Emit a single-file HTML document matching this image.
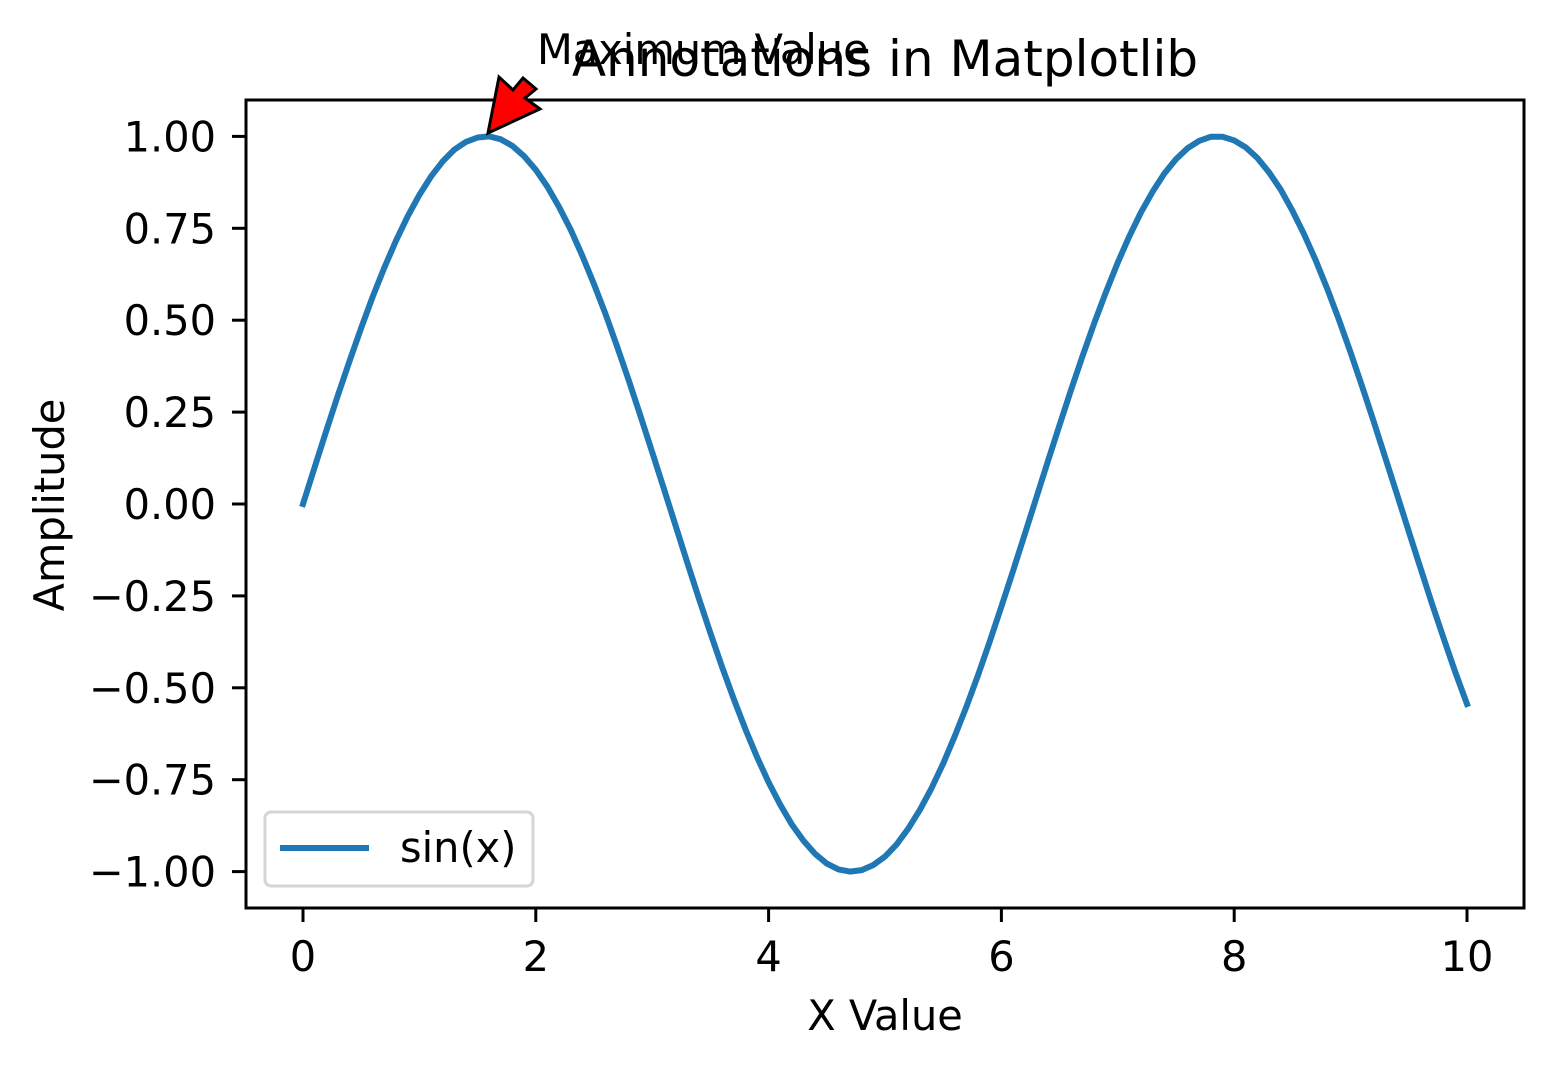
<!DOCTYPE html>
<html><head><meta charset="utf-8"><style>
html,body{margin:0;padding:0;background:#fff;}
svg{display:block;font-family:"DejaVu Sans","Liberation Sans",sans-serif;}
</style></head><body>
<svg id="chart" width="1554" height="1068" viewBox="0 0 1554 1068" xmlns="http://www.w3.org/2000/svg">
<rect width="1554" height="1068" fill="#fff"/>
<g id="ticks"></g>
<polyline id="line" fill="none" stroke="#1f77b4" stroke-width="6" stroke-linejoin="round" stroke-linecap="square"/>
<rect x="246" y="100" width="1278" height="808" fill="none" stroke="#000" stroke-width="3"/>
<text x="885" y="76" style="font-size:50px" text-anchor="middle">Annotations in Matplotlib</text>
<text x="537" y="64" style="font-size:41.5px">Maximum Value</text>
<polygon points="488,133 499,77 513,90 523,78 536,89 525,98 540,109" fill="#ff0000" stroke="#000" stroke-width="3"/>
<text x="885" y="1030" style="font-size:41.5px" text-anchor="middle">X Value</text>
<text transform="translate(64,505) rotate(-90)" style="font-size:41.5px" text-anchor="middle">Amplitude</text>
<g>
<rect x="265" y="812" width="268" height="74" rx="6" fill="#fff" fill-opacity="0.8" stroke="#d5d5d5" stroke-width="3"/>
<line x1="280" y1="848" x2="369" y2="848" stroke="#1f77b4" stroke-width="6"/>
<text x="400" y="862" style="font-size:41.5px">sin(x)</text>
</g>
</svg>
<script>
const xStart = 0, xStep = 0.1;
const ys = [0,0.100,0.199,0.296,0.389,0.479,0.565,0.644,0.717,0.783,0.841,0.891,0.932,0.964,0.985,0.997,1.000,0.992,0.974,0.946,0.909,0.863,0.808,0.746,0.675,0.598,0.516,0.427,0.335,0.239,0.141,0.042,-0.058,-0.158,-0.256,-0.351,-0.443,-0.530,-0.612,-0.688,-0.757,-0.818,-0.872,-0.916,-0.952,-0.978,-0.994,-1.000,-0.996,-0.982,-0.959,-0.926,-0.883,-0.832,-0.773,-0.706,-0.631,-0.551,-0.465,-0.374,-0.279,-0.182,-0.083,0.017,0.117,0.215,0.312,0.405,0.494,0.578,0.657,0.729,0.794,0.850,0.899,0.938,0.968,0.988,0.999,0.999,0.989,0.970,0.941,0.902,0.855,0.798,0.734,0.663,0.585,0.501,0.412,0.319,0.223,0.124,0.025,-0.075,-0.174,-0.272,-0.366,-0.458,-0.544];
const xTicks = [0,2,4,6,8,10];
const yTicks = [1,0.75,0.5,0.25,0,-0.25,-0.5,-0.75,-1];
const yTickLabels = ["1.00","0.75","0.50","0.25","0.00","\u22120.25","\u22120.50","\u22120.75","\u22121.00"];
const X = v => 303 + v*116.4;
const Y = v => 504 - v*367.6;
const NS = "http://www.w3.org/2000/svg";
const g = document.getElementById('ticks');
function mk(tag, attrs){const e=document.createElementNS(NS,tag);for(const k in attrs)e.setAttribute(k,attrs[k]);return e;}
xTicks.forEach(t=>{
  const l=mk('line',{x1:X(t),x2:X(t),y1:908,y2:922,stroke:'#000','stroke-width':3});
  
  
  g.appendChild(l);
  const tx=mk('text',{x:X(t),y:971,style:'font-size:41.5px','text-anchor':'middle'});
  tx.textContent=String(t);
  
  
  g.appendChild(tx);
});
yTicks.forEach((t,i)=>{
  const l=mk('line',{x1:232,x2:246,y1:Y(t),y2:Y(t),stroke:'#000','stroke-width':3});
  
  
  g.appendChild(l);
  const tx=mk('text',{x:216,y:Y(t)+15,style:'font-size:41.5px','text-anchor':'end'});
  tx.textContent=yTickLabels[i];
  
  
  g.appendChild(tx);
});
document.getElementById('line').setAttribute('points', ys.map((v,i)=>X(xStart+i*xStep)+','+Y(v)).join(' '));
</script>
</body></html>
